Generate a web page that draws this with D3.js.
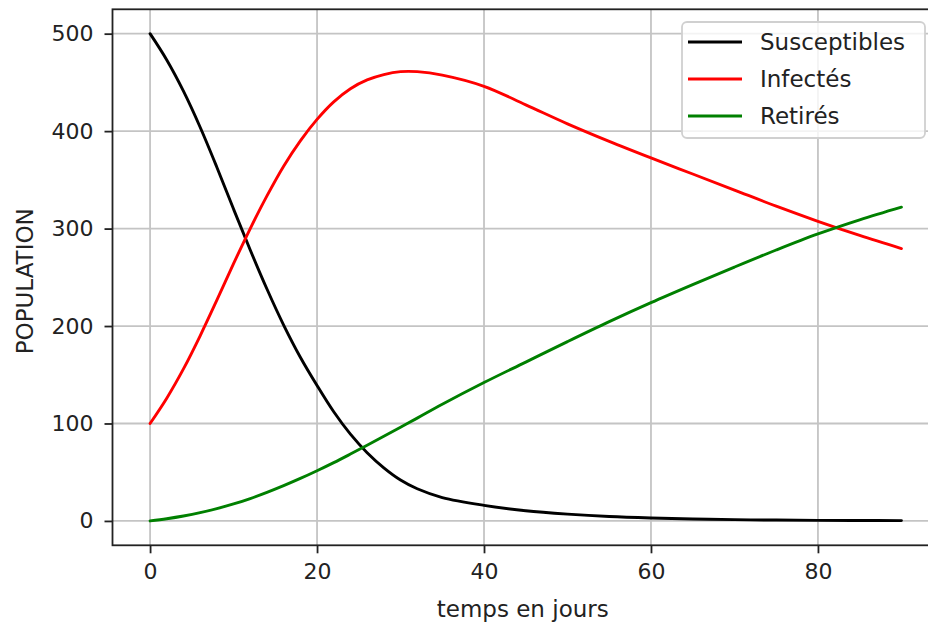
<!DOCTYPE html>
<html>
<head>
<meta charset="utf-8">
<script src="https://cdn.jsdelivr.net/npm/d3@7"></script>
<style>
  html, body { margin: 0; padding: 0; background: #fff; }
  svg { display: block; font-family: "DejaVu Sans", sans-serif; }
</style>
</head>
<body>
<svg id="chart" width="928" height="626"></svg>
<script>
// Modèle SIR : évolution de la population sur 90 jours
const jours = [0, 2, 4, 6, 8, 10, 12, 14, 16, 18, 20, 22, 24, 26, 28, 30, 32, 35, 40, 45, 50, 55, 60, 65, 70, 75, 80, 85, 90];
const susceptibles = [500, 473, 441, 404, 363, 320, 278, 238, 201, 168, 139, 112, 89, 70, 54.5, 42, 33, 24, 16, 10.5, 7, 4.5, 3, 2, 1.3, 0.9, 0.6, 0.45, 0.35];
const infectes = [100, 126, 156, 190, 226.5, 264, 300, 333.5, 364, 390, 412, 430, 443.5, 452.5, 458, 461, 461, 457.5, 446, 427, 407.5, 389.5, 372.5, 356, 339.5, 323, 307.5, 293, 279.5];
const retires = [0, 2.3, 5.1, 8.5, 12.6, 17.4, 23, 29.3, 36.2, 43.6, 51.5, 59.8, 68.6, 77.6, 86.8, 96.1, 105.5, 119.7, 142, 163, 184, 204.5, 224, 242.5, 260.5, 278, 294.5, 309, 322];

const xTicks = [0, 20, 40, 60, 80];
const yTicks = [0, 100, 200, 300, 400, 500];

const series = [
  { nom: "Susceptibles", valeurs: susceptibles, couleur: "#000000" },
  { nom: "Infectés", valeurs: infectes, couleur: "#ff0000" },
  { nom: "Retirés", valeurs: retires, couleur: "#008000" }
];

const svg = d3.select("#chart");
const zone = { gauche: 112.5, droite: 939, haut: 9.3, bas: 545.3 };

const x = d3.scaleLinear().domain([-4.5, 94.5]).range([zone.gauche, zone.droite]);
const y = d3.scaleLinear().domain([-25, 525]).range([zone.bas, zone.haut]);

// Grille
const grid = svg.append("g");
grid.selectAll("line.gx").data(xTicks).join("line")
  .attr("x1", d => x(d)).attr("x2", d => x(d))
  .attr("y1", zone.haut).attr("y2", zone.bas)
  .attr("stroke", "#c4c4c4").attr("stroke-width", 1.8);
grid.selectAll("line.gy").data(yTicks).join("line")
  .attr("x1", zone.gauche).attr("x2", zone.droite)
  .attr("y1", d => y(d)).attr("y2", d => y(d))
  .attr("stroke", "#c4c4c4").attr("stroke-width", 1.8);

// Courbes
const line = d3.line().curve(d3.curveCatmullRom.alpha(0.5));
const courbes = svg.append("g");
series.forEach(s => {
  courbes.append("path")
    .attr("d", line(jours.map((t, i) => [x(t), y(s.valeurs[i])])))
    .attr("fill", "none")
    .attr("stroke", s.couleur)
    .attr("stroke-width", 2.9)
    .attr("stroke-linecap", "round")
    .attr("stroke-linejoin", "round");
});

// Axes
const xAxis = d3.axisBottom(x).tickValues(xTicks).tickSize(8).tickPadding(10).tickFormat(d3.format("d"));
const yAxis = d3.axisLeft(y).tickValues(yTicks).tickSize(8).tickPadding(11).tickFormat(d3.format("d"));

const gx = svg.append("g").attr("transform", `translate(0,${zone.bas})`).call(xAxis);
const gy = svg.append("g").attr("transform", `translate(${zone.gauche},0)`).call(yAxis);
[gx, gy].forEach(g => {
  g.select(".domain").remove();
  g.selectAll(".tick line").attr("stroke", "#222").attr("stroke-width", 1.8);
  g.selectAll(".tick text").attr("fill", "#222").style("font-size", "22px").style("font-family", "DejaVu Sans");
});

// Cadre
svg.append("rect")
  .attr("x", zone.gauche).attr("y", zone.haut)
  .attr("width", zone.droite - zone.gauche).attr("height", zone.bas - zone.haut)
  .attr("fill", "none").attr("stroke", "#222").attr("stroke-width", 1.8);

// Titres des axes
svg.append("text")
  .attr("x", (zone.gauche + zone.droite) / 2 - 3).attr("y", 617)
  .attr("text-anchor", "middle")
  .attr("fill", "#222").style("font-size", "23px")
  .text("temps en jours");
svg.append("text")
  .attr("transform", `translate(33,${(zone.haut + zone.bas) / 2 + 4}) rotate(-90)`)
  .attr("text-anchor", "middle")
  .attr("fill", "#222").style("font-size", "23px")
  .text("POPULATION");

// Légende
const lg = svg.append("g");
lg.append("rect")
  .attr("x", 682).attr("y", 22).attr("width", 243).attr("height", 116)
  .attr("rx", 5)
  .attr("fill", "rgba(255,255,255,0.8)")
  .attr("stroke", "#d0d0d0").attr("stroke-width", 1.8);
series.forEach((s, i) => {
  const yy = 42 + i * 37;
  lg.append("line")
    .attr("x1", 688).attr("x2", 742).attr("y1", yy).attr("y2", yy)
    .attr("stroke", s.couleur).attr("stroke-width", 2.9);
  lg.append("text")
    .attr("x", 760).attr("y", yy)
    .attr("dy", "0.35em")
    .attr("fill", "#222").style("font-size", "23px")
    .text(s.nom);
});
</script>
</body>
</html>
